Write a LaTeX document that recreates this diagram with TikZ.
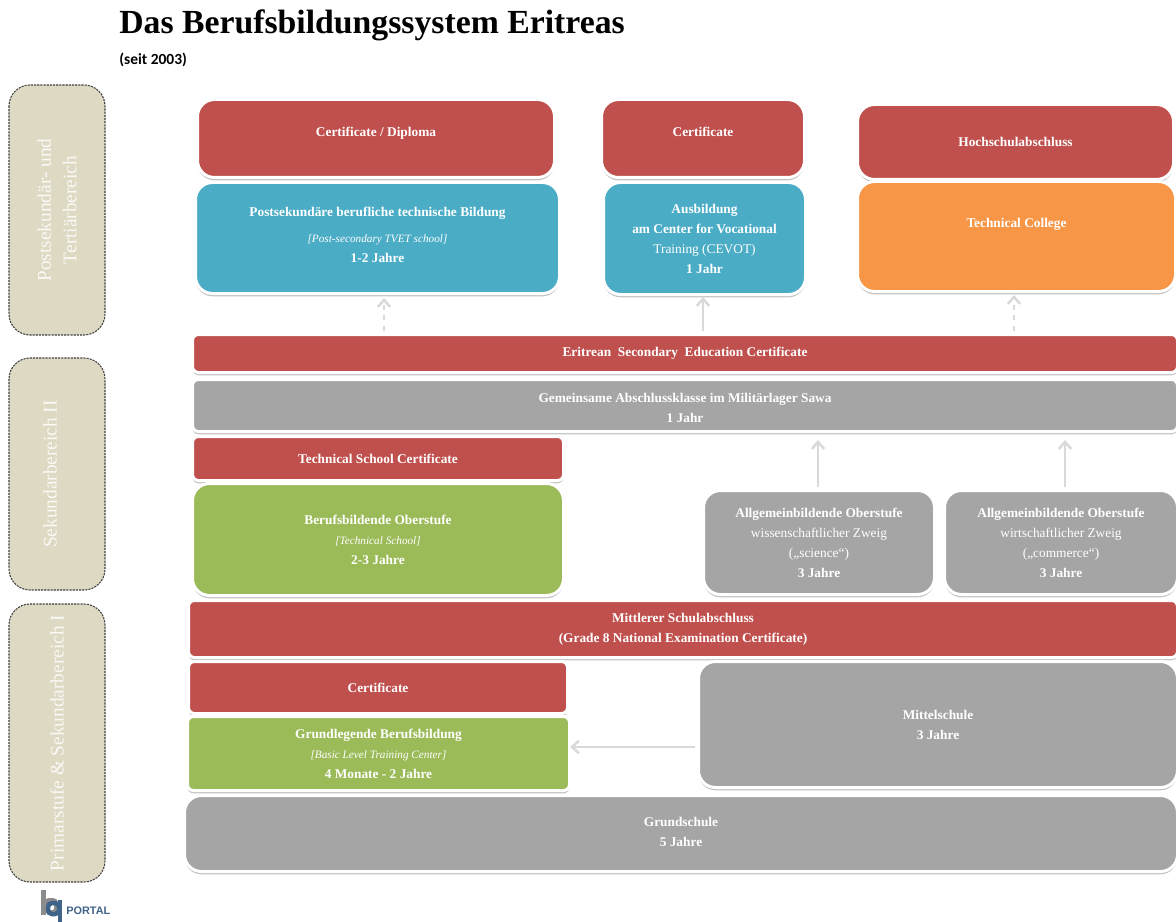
\documentclass[tikz,border=0pt]{standalone}
\usepackage{fontspec}
\usepackage{xcolor}
\usetikzlibrary{arrows.meta, shadows}
\setmainfont{Liberation Serif}
\newfontfamily\headfont{Carlito}
\newfontfamily\logofont{Liberation Sans}

\definecolor{certred}{HTML}{C0504D}
\definecolor{schoolblue}{HTML}{4BACC6}
\definecolor{schoolgreen}{HTML}{9BBB59}
\definecolor{collegeorange}{HTML}{F79646}
\definecolor{generalgray}{HTML}{A5A5A5}
\definecolor{bandtan}{HTML}{DDD9C3}
\definecolor{logoblue}{HTML}{3F6389}

\tikzset{
  boxsize/.style 2 args={minimum width=#1*0.02cm, minimum height=#2*0.02cm},
  eduBox/.style={draw=white, line width=0.06cm, rounded corners=0.34cm, inner sep=0pt, outer sep=0pt,
    align=center, text=white, font=\fontsize{7.6}{11.4}\selectfont\bfseries,
    drop shadow={shadow xshift=0pt, shadow yshift=-1.6pt, fill=black!40, opacity=.6}},
  barBox/.style={eduBox, rounded corners=0.12cm},
  bandBox/.style={draw=black!75, dash pattern=on 1.2pt off 0.6pt, line width=0.6pt, fill=bandtan, rounded corners=0.42cm,
    rotate=90, inner sep=0pt, align=center, text=white!85!bandtan, font=\fontsize{11}{14.6}\selectfont},
  flowLine/.style={draw=black!15, line width=0.05cm, shorten <=2pt, -{Straight Barb[length=4pt, width=7pt]}},
}

\begin{document}
\begin{tikzpicture}[x=0.02cm, y=-0.02cm]
\useasboundingbox (0, 0) rectangle (1176, 922);

% heading
\node[anchor=west, inner sep=0pt, font=\fontsize{19.2}{22}\selectfont\bfseries] (title) at (119, 25) {Das Berufsbildungssystem Eritreas};
\node[anchor=west, inner sep=0pt, font=\headfont\fontsize{8.8}{10}\selectfont\bfseries] (since) at (119, 60) {(seit 2003)};

% levels on the left
\node[bandBox, boxsize={250}{96}] (bandTertiary) at (57, 210) {Postsekundär- und\\Tertiärbereich};
\node[bandBox, boxsize={232}{96}, text depth=8pt] (bandSecondary) at (57, 474) {Sekundarbereich II};
\node[bandBox, boxsize={278}{96}] (bandPrimary) at (57, 743) {Primarstufe \& Sekundarbereich I};

% top row
\node[eduBox, fill=certred, boxsize={357}{78}, text depth=7.4pt] (certA) at (376, 138.5) {Certificate / Diploma};
\node[eduBox, fill=schoolblue, boxsize={364}{111}, text depth=4pt] (schoolA) at (377.5, 238) {Postsekundäre berufliche technische Bildung\\[3.4pt]
  {\mdseries\itshape\fontsize{6.4}{11.4}\selectfont [Post-secondary TVET school]}\\1-2 Jahre};
\node[eduBox, fill=certred, boxsize={203}{78}, text depth=7.4pt] (certB) at (703, 138.5) {Certificate};
\node[eduBox, fill=schoolblue, boxsize={202}{112}] (schoolB) at (704.5, 238.5) {Ausbildung\\am Center for Vocational\\{\mdseries Training (CEVOT)}\\1 Jahr};
\node[eduBox, fill=certred, boxsize={316}{75}] (certC) at (1015.5, 142) {Hochschulabschluss};
\node[eduBox, fill=collegeorange, boxsize={318}{110}, text depth=16pt] (college) at (1016.5, 236.5) {Technical College};

% secondary level
\node[barBox, fill=certred, boxsize={985}{38}] (certSecondary) at (685, 353.5) {Eritrean~ Secondary~ Education Certificate};
\node[barBox, fill=generalgray, boxsize={985}{52}, text height=19.4pt] (sawa) at (685, 405.5) {Gemeinsame Abschlussklasse im Militärlager Sawa\\1 Jahr};
\node[barBox, fill=certred, boxsize={371}{44}] (certTechnical) at (378, 458.5) {Technical School Certificate};
\node[eduBox, fill=schoolgreen, boxsize={371}{112}] (technical) at (378, 539.5) {Berufsbildende Oberstufe\\
  {\mdseries\itshape\fontsize{6.4}{11.4}\selectfont [Technical School]}\\2-3 Jahre};
\node[eduBox, fill=generalgray, boxsize={231}{104}] (science) at (819, 542.5) {Allgemeinbildende Oberstufe\\{\mdseries wissenschaftlicher Zweig}\\{\mdseries („science“)}\\3 Jahre};
\node[eduBox, fill=generalgray, boxsize={233}{104}] (commerce) at (1061, 542.5) {Allgemeinbildende Oberstufe\\{\mdseries wirtschaftlicher Zweig}\\{\mdseries („commerce“)}\\3 Jahre};

% primary level
\node[barBox, fill=certred, boxsize={989}{57}] (certMiddle) at (683, 629) {Mittlerer Schulabschluss\\(Grade 8 National Examination Certificate)};
\node[barBox, fill=certred, boxsize={379}{52}] (certBasic) at (378, 687.5) {Certificate};
\node[barBox, fill=schoolgreen, boxsize={382}{74}] (basic) at (378.5, 753.5) {Grundlegende Berufsbildung\\
  {\mdseries\itshape\fontsize{6.4}{11.4}\selectfont [Basic Level Training Center]}\\4 Monate - 2 Jahre};
\node[eduBox, fill=generalgray, boxsize={479}{126}] (middle) at (938, 724.5) {Mittelschule\\3 Jahre};
\node[eduBox, fill=generalgray, boxsize={993}{76}, text depth=2pt] (primary) at (681, 833.5) {Grundschule\\5 Jahre};

% arrows
\coordinate (riseA) at (384, 298);
\coordinate (riseB) at (703, 297);
\coordinate (riseC) at (1014, 295);
\coordinate (riseD) at (818, 440);
\coordinate (riseE) at (1065, 440);
\coordinate (riseF) at (570, 747);
\draw[flowLine, dashed] (riseA |- certSecondary.north) -- (riseA);
\draw[flowLine] (riseB |- certSecondary.north) -- (riseB);
\draw[flowLine, dashed] (riseC |- certSecondary.north) -- (riseC);
\draw[flowLine] (riseD |- science.north) -- (riseD);
\draw[flowLine] (riseE |- commerce.north) -- (riseE);
\draw[flowLine] (middle.west |- riseF) -- (riseF);

% logo
\fill[black!45] (41, 890) rectangle (46, 915);
\draw[black!45, line width=0.08cm, rounded corners=0.06cm] (46, 900) rectangle (56, 912);
\draw[logoblue, line width=0.09cm, rounded corners=0.08cm] (48, 903) rectangle (59, 914);
\fill[logoblue] (58, 900) rectangle (62, 922);
\node[anchor=west, inner sep=0pt, text=logoblue, font=\logofont\fontsize{6.2}{7}\selectfont\bfseries] (portal) at (66, 911) {PORTAL};
\end{tikzpicture}
\end{document}
